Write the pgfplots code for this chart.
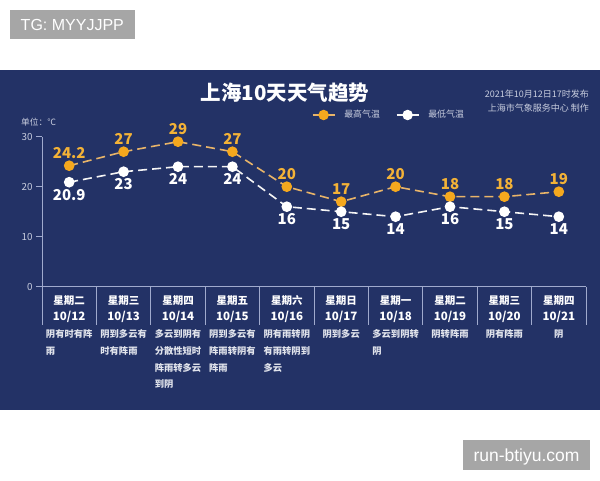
\documentclass[border=0pt]{standalone}
\usepackage{pgfplots}
\pgfplotsset{compat=1.18}
\usepackage{fontspec}
\setmainfont{Noto Sans CJK SC}
\newfontfamily\lib{Liberation Sans}
\definecolor{navy}{RGB}{35,50,102}
\definecolor{hiorange}{RGB}{245,168,30}
\definecolor{hiline}{RGB}{232,180,105}
\definecolor{hilabel}{RGB}{243,178,55}
\definecolor{loline}{RGB}{245,245,245}
\definecolor{axgray}{RGB}{160,170,205}
\definecolor{ltgray}{RGB}{200,205,222}
\definecolor{desc}{RGB}{225,228,236}
\definecolor{wm}{RGB}{166,166,166}
\newcommand{\fs}[2]{\fontsize{#1}{#2}\selectfont}
\newcommand{\cat}[4]{%
  \node[text=white, font=\bfseries\fs{10.5}{12}, inner sep=0pt] at (axis cs:#1,-2.8) {星期#2};
  \node[text=white, font=\bfseries\fs{11.5}{13}, inner sep=0pt] at (axis cs:#1,-6.0) {#3};
  \node[text=desc, font=\bfseries\fs{9.3}{16.7}, inner sep=0pt, align=left, anchor=north] at (axis cs:#1,-8.6) {#4};
}
\begin{document}
\begin{tikzpicture}
\useasboundingbox (0,0) rectangle (600pt,480pt);
\fill[white] (0,0) rectangle (600pt,480pt);
\fill[navy] (0,70pt) rectangle (600pt,410pt);
\fill[wm] (10pt,440.7pt) rectangle (134.7pt,470pt);
\node[text=white, inner sep=0pt, font=\lib\fs{16}{18}] at (72.3pt,455.3pt) {TG: MYYJJPP};
\fill[wm] (463pt,10pt) rectangle (590pt,40pt);
\node[text=white, inner sep=0pt, anchor=base, font=\lib\fs{17.5}{20}] at (526.5pt,19pt) {run-btiyu.com};
\node[text=white, inner sep=0pt, font=\bfseries\fs{20.5}{24}] at (285pt,386.7pt) {上海10天天气趋势};
\node[text=ltgray, inner sep=0pt, anchor=east, font=\fs{9}{11}] at (589pt,386pt) {2021年10月12日17时发布};
\node[text=ltgray, inner sep=0pt, anchor=east, font=\fs{9}{11}] at (589pt,371.7pt) {上海市气象服务中心 制作};
\node[text=ltgray, inner sep=0pt, anchor=west, font=\fs{8.7}{10}] at (21pt,358.3pt) {单位：℃};
\begin{axis}[
  at={(42pt,193.3pt)}, anchor=south west,
  scale only axis, width=544pt, height=150pt,
  xmin=-0.5, xmax=9.5, ymin=0, ymax=30,
  axis lines=left, axis line style={-, draw=axgray, line width=0.8pt},
  xtick=\empty, ytick={0,10,20,30},
  tick align=outside, major tick length=6pt,
  tick style={draw=axgray, line width=0.8pt},
  yticklabel style={font=\fs{9.8}{11}, text=ltgray},
  /pgf/number format/assume math mode=true,
  clip=false,
  legend columns=2,
  legend style={at={(0.4958,1.1447)}, anchor=west, draw=none, fill=none, inner sep=0pt,
    font=\fs{8.9}{10}, text=ltgray, nodes={inner sep=0pt, text=ltgray},
    /tikz/every odd column/.append style={column sep=9pt},
    /tikz/every even column/.append style={column sep=16pt}},
  legend image code/.code={\draw[mark repeat=2, mark phase=2, #1, solid, line width=1.4pt] plot coordinates {(0pt,0pt) (11pt,0pt) (22pt,0pt)};},
]
\addplot[hiline, line width=1.6pt, dash pattern=on 9pt off 5pt,
  mark=*, mark size=4.5pt, mark options={solid, fill=hiorange, draw=hiorange},
  nodes near coords,
  every node near coord/.append style={text=hilabel, font=\bfseries\fs{15}{17}, anchor=center, yshift=12.5pt, inner sep=0pt}]
  coordinates {(0,24.2) (1,27) (2,29) (3,27) (4,20) (5,17) (6,20) (7,18) (8,18) (9,19)};
\addlegendentry{最高气温}
\addplot[loline, line width=1.6pt, dash pattern=on 9pt off 5pt,
  mark=*, mark size=4.5pt, mark options={solid, fill=white, draw=white},
  nodes near coords,
  every node near coord/.append style={text=white, font=\bfseries\fs{15}{17}, anchor=center, yshift=-12.5pt, inner sep=0pt}]
  coordinates {(0,20.9) (1,23) (2,24) (3,24) (4,16) (5,15) (6,14) (7,16) (8,15) (9,14)};
\addlegendentry{最低气温}
\pgfplotsinvokeforeach{0,...,10}{\draw[axgray, line width=0.8pt] (axis cs:{#1-0.5},0) -- (axis cs:{#1-0.5},-7.66);}
\cat{0}{二}{10/12}{阴有时有阵\\雨}
\cat{1}{三}{10/13}{阴到多云有\\时有阵雨}
\cat{2}{四}{10/14}{多云到阴有\\分散性短时\\阵雨转多云\\到阴}
\cat{3}{五}{10/15}{阴到多云有\\阵雨转阴有\\阵雨}
\cat{4}{六}{10/16}{阴有雨转阴\\有雨转阴到\\多云}
\cat{5}{日}{10/17}{阴到多云}
\cat{6}{一}{10/18}{多云到阴转\\阴}
\cat{7}{二}{10/19}{阴转阵雨}
\cat{8}{三}{10/20}{阴有阵雨}
\cat{9}{四}{10/21}{阴}
\end{axis}
\end{tikzpicture}
\end{document}
